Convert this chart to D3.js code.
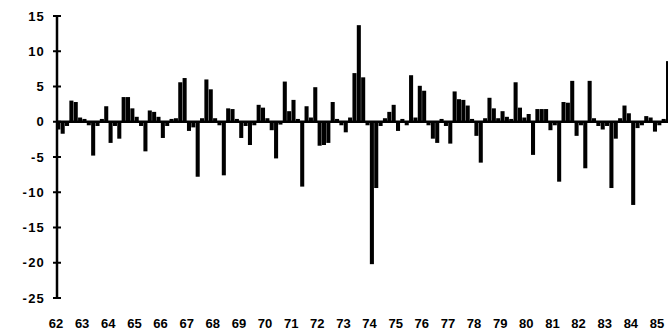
<!DOCTYPE html>
<html>
<head>
<meta charset="utf-8">
<script src="https://cdn.jsdelivr.net/npm/d3@7"></script>
<style>
  html, body { margin: 0; padding: 0; background: #fff; }
  svg { display: block; }
  text { font-family: "Liberation Sans", Arial, sans-serif; font-weight: bold; fill: #000; }
</style>
</head>
<body>
<svg id="chart" width="668" height="333"></svg>
<script>
// Bimonthly percentage change, starting January 1962
const startYear = 62;
const periodsPerYear = 6;
const changes = [
  -1.1, -1.7, -0.6, 3.0, 2.8, 0.6, 0.4, -0.5, -4.8, -0.6,
  0.4, 2.2, -3.0, -0.6, -2.4, 3.5, 3.5, 1.9, 0.7, -0.6,
  -4.2, 1.6, 1.4, 0.7, -2.3, -0.6, 0.4, 0.5, 5.6, 6.2,
  -1.3, -0.8, -7.8, 0.5, 6.0, 4.6, 0.5, -0.5, -7.6, 1.9,
  1.8, 0.4, -2.3, -0.6, -3.3, -0.5, 2.4, 2.0, 0.5, -1.2,
  -5.2, -0.4, 5.7, 1.5, 3.1, 0.4, -9.2, 2.2, 0.6, 4.9,
  -3.4, -3.3, -3.0, 2.8, 0.4, -0.5, -1.5, 0.6, 6.9, 13.7,
  6.3, -0.5, -20.2, -9.4, -0.6, 0.5, 1.4, 2.4, -1.3, 0.4,
  -0.5, 6.6, 0.6, 5.1, 4.4, -0.5, -2.4, -3.0, 0.4, -0.6,
  -3.1, 4.3, 3.2, 3.1, 2.3, 0.4, -2.0, -5.8, 0.5, 3.4,
  1.9, 0.5, 1.5, 0.7, 0.4, 5.6, 2.0, 0.6, 1.1, -4.7,
  1.8, 1.8, 1.8, -1.2, -0.5, -8.5, 2.8, 2.7, 5.8, -2.0,
  -0.5, -6.6, 5.8, 0.5, -0.6, -1.1, -0.6, -9.4, -2.4, 0.5,
  2.3, 1.2, -11.8, -0.9, -0.5, 0.8, 0.6, -1.4, -0.5, 0.4,
  8.6
];
const yearLabels = ["62","63","64","65","66","67","68","69","70","71","72","73",
                    "74","75","76","77","78","79","80","81","82","83","84","85"];
const yTicks = [15, 10, 5, 0, -5, -10, -15, -20, -25];

const svg = d3.select("#chart");

const x = d3.scaleLinear().domain([62, 85]).range([56, 657]);
const y = d3.scaleLinear().domain([-25, 15]).range([298, 16]);
const slot = x(startYear + 1 / periodsPerYear) - x(startYear);
const axisX = 57;

// bars
svg.append("g")
  .selectAll("rect")
  .data(changes)
  .join("rect")
  .attr("x", (d, i) => x(startYear + i / periodsPerYear) + 0.3)
  .attr("width", slot - 0.3)
  .attr("y", d => y(Math.max(0, d)))
  .attr("height", d => Math.abs(y(d) - y(0)))
  .attr("fill", "#000");

// zero line
svg.append("line")
  .attr("x1", axisX).attr("x2", 668)
  .attr("y1", y(0)).attr("y2", y(0))
  .attr("stroke", "#000").attr("stroke-width", 2.5);

// vertical axis
svg.append("line")
  .attr("x1", axisX).attr("x2", axisX)
  .attr("y1", y(15)).attr("y2", y(-25))
  .attr("stroke", "#000").attr("stroke-width", 2.5);

const yg = svg.append("g");
yg.selectAll("line.tick")
  .data(yTicks)
  .join("line")
  .attr("class", "tick")
  .attr("x1", axisX - 4).attr("x2", axisX + 4)
  .attr("y1", d => y(d)).attr("y2", d => y(d))
  .attr("stroke", "#000").attr("stroke-width", 2);

yg.selectAll("text")
  .data(yTicks)
  .join("text")
  .attr("x", 45)
  .attr("y", d => y(d))
  .attr("dy", "0.36em")
  .attr("text-anchor", "end")
  .attr("font-size", 13)
  .attr("letter-spacing", 1.2)
  .text(d => d < 0 ? "-" + Math.abs(d) : String(d));

// year labels
svg.append("g")
  .selectAll("text")
  .data(yearLabels)
  .join("text")
  .attr("x", (d, i) => x(62 + i))
  .attr("y", 328)
  .attr("text-anchor", "middle")
  .attr("font-size", 13)
  .text(d => d);
</script>
</body>
</html>
